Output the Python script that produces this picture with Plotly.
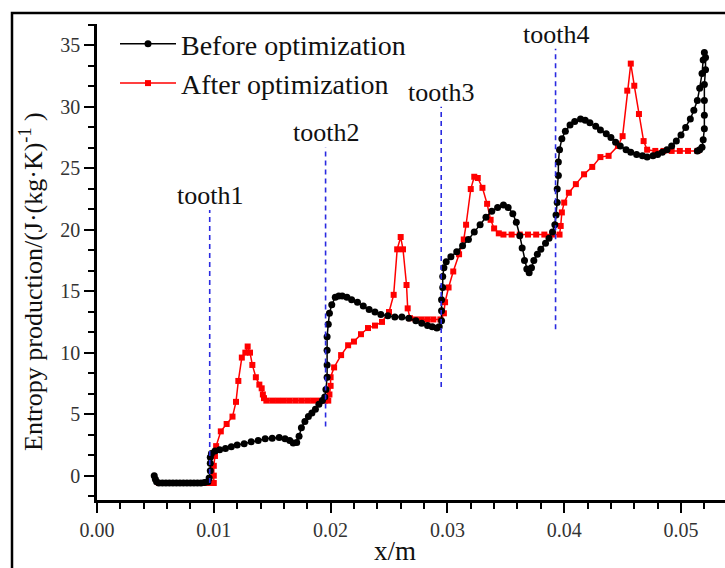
import plotly.graph_objects as go

# ---- data ----
before_x = [0.0049, 0.0050, 0.0051, 0.0053, 0.0056, 0.0059, 0.0062, 0.0065, 0.0068, 0.0071, 0.0074,
            0.0077, 0.0080, 0.0083, 0.0086, 0.0089, 0.0092, 0.0095, 0.0096, 0.0097, 0.0097, 0.0097,
            0.0098, 0.0101, 0.0105, 0.0110, 0.0115, 0.0120, 0.0126, 0.0132, 0.0138, 0.0144, 0.0150,
            0.0156, 0.0161, 0.0165, 0.0168, 0.0171, 0.0173, 0.0175, 0.0178, 0.0181, 0.0184, 0.0187,
            0.0190, 0.0193, 0.0195, 0.0196, 0.0197, 0.0197, 0.0197, 0.0197, 0.0198, 0.0199, 0.0201,
            0.0204, 0.0207, 0.0210, 0.0214, 0.0218, 0.0223, 0.0228, 0.0233, 0.0238, 0.0243, 0.0249,
            0.0255, 0.0261, 0.0267, 0.0273, 0.0278, 0.0283, 0.0287, 0.0291, 0.0293, 0.0295, 0.0295,
            0.0295, 0.0296, 0.0296, 0.0297, 0.0299, 0.0303, 0.0308, 0.0313, 0.0318, 0.0323, 0.0328,
            0.0333, 0.0338, 0.0343, 0.0348, 0.0352, 0.0356, 0.0359, 0.0362, 0.0364, 0.0366, 0.0368,
            0.0370, 0.0372, 0.0374, 0.0377, 0.0380, 0.0384, 0.0387, 0.0390, 0.0392, 0.0393, 0.0394,
            0.0394, 0.0395, 0.0395, 0.0396, 0.0398, 0.0401, 0.0405, 0.0409, 0.0414, 0.0418, 0.0422,
            0.0427, 0.0431, 0.0436, 0.0440, 0.0444, 0.0448, 0.0453, 0.0457, 0.0462, 0.0467, 0.0471,
            0.0476, 0.0480, 0.0484, 0.0488, 0.0492, 0.0496, 0.0500, 0.0504, 0.0508, 0.0511, 0.0514,
            0.0516, 0.0518, 0.0519, 0.0520, 0.0521, 0.0521, 0.0520, 0.0520, 0.0520, 0.0520, 0.0519,
            0.0518, 0.0516, 0.0514]
before_y = [0.0, -0.3, -0.5, -0.6, -0.6, -0.6, -0.6, -0.6, -0.6, -0.6, -0.6,
            -0.6, -0.6, -0.6, -0.6, -0.6, -0.55, -0.5, -0.2, 0.4, 1.0, 1.5,
            1.8, 2.0, 2.1, 2.2, 2.35, 2.5, 2.6, 2.75, 2.85, 3.0, 3.05,
            3.1, 3.0, 2.85, 2.65, 2.7, 3.2, 3.9, 4.4, 4.8, 5.1, 5.4,
            5.8, 6.1, 6.4, 7.0, 8.0, 9.0, 10.2, 11.3, 12.3, 13.2, 13.9,
            14.5, 14.6, 14.6, 14.5, 14.3, 14.1, 13.8, 13.5, 13.3, 13.1, 13.0,
            12.9, 12.9, 12.8, 12.6, 12.4, 12.2, 12.1, 12.0, 12.1, 12.6, 13.4,
            14.3, 15.3, 16.2, 16.9, 17.4, 17.8, 18.2, 18.7, 19.2, 19.8, 20.4,
            21.0, 21.5, 21.8, 22.0, 21.8, 21.3, 20.6, 19.5, 18.5, 17.5, 16.8,
            16.5, 16.9, 17.5, 18.0, 18.4, 18.9, 19.3, 19.8, 20.4, 21.2, 22.2,
            23.3, 24.4, 25.5, 26.5, 27.4, 28.0, 28.5, 28.8, 29.0, 28.9, 28.7,
            28.4, 28.1, 27.8, 27.5, 27.1, 26.8, 26.5, 26.3, 26.1, 26.0, 25.9,
            26.0, 26.1, 26.3, 26.5, 26.8, 27.2, 27.7, 28.3, 29.0, 29.7, 30.5,
            31.5, 32.7, 33.8, 34.4, 34.0, 33.0, 31.8, 30.5, 29.3, 28.2, 27.3,
            26.7, 26.5, 26.4]

after_x = [0.0053, 0.0058, 0.0063, 0.0068, 0.0073, 0.0078, 0.0083, 0.0088, 0.0093, 0.0097, 0.0100,
           0.0100, 0.0100, 0.0101, 0.0102, 0.0106, 0.0111, 0.0116, 0.0119, 0.0121, 0.0124, 0.0127,
           0.0129, 0.0131, 0.0133, 0.0136, 0.0139, 0.0141, 0.0142, 0.0143, 0.0145, 0.0150, 0.0155,
           0.0160, 0.0165, 0.0170, 0.0175, 0.0180, 0.0185, 0.0190, 0.0195, 0.0198, 0.0199, 0.0200,
           0.0200, 0.0203, 0.0209, 0.0215, 0.0220, 0.0226, 0.0232, 0.0238, 0.0244, 0.0250, 0.0254,
           0.0257, 0.0260, 0.0262, 0.0265, 0.0266, 0.0268, 0.0273, 0.0278, 0.0283, 0.0288, 0.0294,
           0.0297, 0.0298, 0.0301, 0.0305, 0.0310, 0.0314, 0.0316, 0.0320, 0.0323, 0.0326, 0.0330,
           0.0334, 0.0337, 0.0340, 0.0344, 0.0348, 0.0355, 0.0362, 0.0369, 0.0376, 0.0383, 0.0390,
           0.0396, 0.0397, 0.0398, 0.0400, 0.0404, 0.0410, 0.0417, 0.0424, 0.0431, 0.0438, 0.0446,
           0.0450, 0.0454, 0.0457, 0.0460, 0.0464, 0.0468, 0.0471, 0.0478, 0.0485, 0.0492, 0.0499,
           0.0506, 0.0514]
after_y = [-0.6, -0.6, -0.6, -0.6, -0.6, -0.6, -0.6, -0.6, -0.6, -0.6, -0.6,
           0.0, 0.8, 1.6, 2.4, 3.6, 4.2, 4.8, 6.0, 7.7, 9.6, 10.0,
           10.5, 10.0, 9.0, 8.0, 7.4, 7.1, 6.6, 6.3, 6.1, 6.1, 6.1,
           6.1, 6.1, 6.1, 6.1, 6.1, 6.1, 6.1, 6.1, 6.1, 6.6, 7.3,
           8.0, 8.8, 9.8, 10.6, 10.9, 11.5, 12.0, 12.2, 12.5, 13.3, 14.7,
           18.4, 19.4, 18.4, 15.5, 13.6, 12.8, 12.7, 12.7, 12.7, 12.7, 12.7,
           13.2, 14.1, 15.3, 16.6, 18.0, 19.2, 20.4, 23.3, 24.3, 24.2, 23.4,
           22.1, 20.8, 20.1, 19.7, 19.6, 19.6, 19.6, 19.6, 19.6, 19.6, 19.6,
           19.6, 20.3, 21.4, 22.2, 23.0, 23.7, 24.5, 25.1, 25.9, 26.0, 26.8,
           27.6, 31.3, 33.5, 31.7, 29.4, 27.2, 26.5, 26.4, 26.4, 26.4, 26.4,
           26.4, 26.4]

tooth_labels = ["tooth1", "tooth2", "tooth3", "tooth4"]
tooth_x = [0.00965, 0.01957, 0.02947, 0.03926]
tooth_y0 = [-0.6, 4.0, 7.2, 11.9]
tooth_y1 = [21.6, 26.7, 30.0, 34.7]

x_ticks = [0.00, 0.01, 0.02, 0.03, 0.04, 0.05]
y_ticks = [0, 5, 10, 15, 20, 25, 30, 35]

FONT = "Liberation Serif"

fig = go.Figure()
# red first so that black sits on top, as in the reference
fig.add_trace(go.Scatter(
    x=after_x, y=after_y, mode="lines+markers", name="After optimization",
    line=dict(color="#ff0000", width=1.5),
    marker=dict(symbol="square", size=6, color="#ff0000"),
))
fig.add_trace(go.Scatter(
    x=before_x, y=before_y, mode="lines+markers", name="Before optimization",
    line=dict(color="black", width=1.5),
    marker=dict(symbol="circle", size=7, color="black"),
))
for tx, y0, y1 in zip(tooth_x, tooth_y0, tooth_y1):
    fig.add_trace(go.Scatter(
        x=[tx, tx], y=[y0, y1], mode="lines", showlegend=False, hoverinfo="skip",
        line=dict(color="#2a2ae0", width=1.6, dash="5px,4px"),
    ))

for lab, tx, y1 in zip(tooth_labels, tooth_x, tooth_y1):
    fig.add_annotation(x=tx, y=y1, text=lab, showarrow=False, xanchor="center",
                       yanchor="bottom", yshift=-2,
                       font=dict(family=FONT, size=26, color="#111"))

W, H = 725, 568
ML, MR, MT, MB = 97, 0, 24, 68
pw, ph = W - ML - MR, H - MT - MB

fig.add_annotation(xref="paper", yref="paper", x=(395 - ML) / pw, y=-(551 - (H - MB)) / ph,
                   text="x/m", showarrow=False, xanchor="center", yanchor="middle",
                   font=dict(family=FONT, size=27, color="#111"))
fig.add_annotation(xref="paper", yref="paper", x=(31 - ML) / pw, y=0.5, yshift=-20,
                   text="Entropy production/(J·(kg·K)<sup>-1</sup> )", textangle=-90,
                   showarrow=False, xanchor="center", yanchor="middle",
                   font=dict(family=FONT, size=26, color="#111"))

# outer frame
fig.add_shape(type="rect", xref="paper", yref="paper",
              x0=(12 - ML) / pw, x1=1.05, y0=-0.3, y1=(H - MB - 13) / ph,
              line=dict(color="black", width=2.5), layer="below")

fig.update_layout(
    width=W, height=H,
    margin=dict(l=ML, r=MR, t=MT, b=MB),
    paper_bgcolor="white", plot_bgcolor="white",
    showlegend=True,
    legend=dict(x=(115 - ML) / pw, y=(H - MB - 19) / ph, xanchor="left", yanchor="top",
                traceorder="reversed", itemwidth=56,
                bgcolor="rgba(0,0,0,0)", font=dict(family=FONT, size=28, color="#111"),
                tracegroupgap=0),
    xaxis=dict(range=[0, pw / 11680.0], tickvals=x_ticks, tickformat=".2f",
               showgrid=False, zeroline=False, showline=True, linecolor="black", linewidth=2.5,
               ticks="outside", ticklen=10, tickwidth=2, tickcolor="black",
               minor=dict(dtick=0.002, tick0=0, ticks="outside", ticklen=6, tickwidth=2,
                          tickcolor="black", showgrid=False),
               tickfont=dict(family=FONT, size=20, color="#333")),
    yaxis=dict(range=[-1.98, 36.72], tickvals=y_ticks,
               showgrid=False, zeroline=False, showline=True, linecolor="black", linewidth=2.5,
               ticks="outside", ticklen=10, tickwidth=2, tickcolor="black",
               minor=dict(dtick=5 / 3, tick0=0, ticks="outside", ticklen=6, tickwidth=2,
                          tickcolor="black", showgrid=False),
               tickfont=dict(family=FONT, size=20, color="#333")),
)

fig.write_html("out.html")
